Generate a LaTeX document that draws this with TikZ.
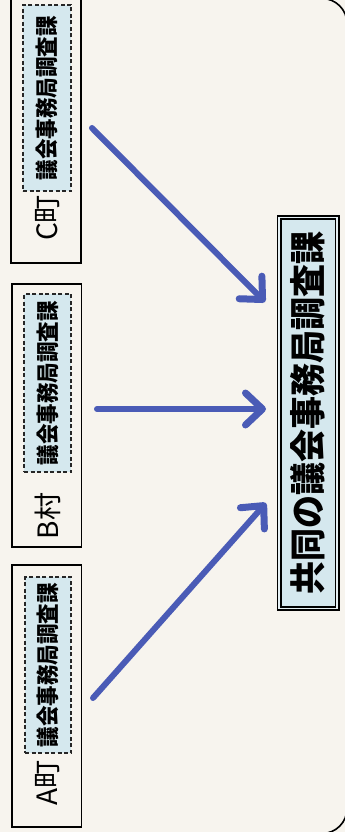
\documentclass[tikz,border=0pt]{standalone}
\usepackage{fontspec}
\newfontfamily\jp{Noto Sans CJK JP}
\usetikzlibrary{arrows.meta}
\definecolor{paper}{HTML}{F7F4EE}
\definecolor{paleblue}{HTML}{D5E8EE}
\definecolor{arrowblue}{HTML}{4A5BB6}
\tikzset{
  townbox/.style={draw=black, line width=1.5pt, inner sep=0pt},
  dashbox/.style={draw=black!85, line width=1.2pt, dash pattern=on 4pt off 2.5pt, fill=paleblue, inner sep=0pt},
  dashtext/.style={rotate=90, yscale=1.12, font=\jp\bfseries\fontsize{20.5}{20.5}\selectfont, inner sep=0pt},
  townlabel/.style={rotate=90, font=\jp\fontsize{28}{28}\selectfont, inner sep=0pt},
  mainbox/.style={draw=black, line width=1.6pt, double=paleblue!60!white, double distance=1.8pt, fill=paleblue, inner sep=0pt},
  maintext/.style={rotate=90, yscale=1.1, font=\jp\bfseries\fontsize{33}{33}\selectfont, inner sep=0pt},
  flow/.style={draw=arrowblue, line width=6pt, line cap=round,
    -{Straight Barb[length=17pt, width=32pt, round, line width=7pt]}}
}
\begin{document}
\begin{tikzpicture}[x=1pt, y=-1pt]
\useasboundingbox (0,0) rectangle (345,832);
\fill[paper] (0,0) rectangle (345,832);
% outer frame (only right side visible)
\draw[line width=1.6pt, rounded corners=25pt] (-20,-1.5) -- (347,-1.5) -- (347,833.5) -- (-20,833.5);

% town boxes
\node[townbox, minimum width=70pt, minimum height=264.5pt] (Cbox) at (46,130.75) {};
\node[townbox, minimum width=69.5pt, minimum height=263pt] (Bbox) at (46.5,415.5) {};
\node[townbox, minimum width=69.5pt, minimum height=262pt] (Abox) at (46.5,696) {};

\node[dashbox, minimum width=48pt, minimum height=186pt] (Cd) at (47,98) {};
\node[dashbox, minimum width=47pt, minimum height=178pt] (Bd) at (47.5,383) {};
\node[dashbox, minimum width=46pt, minimum height=176pt] (Ad) at (48,665) {};

\node[dashtext] (Ct) at (Cd) {議会事務局調査課};
\node[dashtext] (Bt) at (Bd) {議会事務局調査課};
\node[dashtext] (At) at (Ad) {議会事務局調査課};

\node[townlabel] (Cl) at (48,218) {C町};
\node[townlabel] (Bl) at (48,516) {B村};
\node[townlabel] (Al) at (48,783) {A町};

% joint box
\node[mainbox, minimum width=58pt, minimum height=391pt] (J) at (308,413) {};
\node[maintext] (Jt) at (J) {共同の議会事務局調査課};

% arrows
\coordinate (cs) at (92,128);
\coordinate (ce) at (265,302);
\coordinate (bs) at (97,409);
\coordinate (be) at (266,409);
\coordinate (as) at (93,698);
\coordinate (ae) at (266,503);
\draw[flow] (cs) -- (ce);
\draw[flow] (bs) -- (be);
\draw[flow] (as) -- (ae);
\end{tikzpicture}
\end{document}
